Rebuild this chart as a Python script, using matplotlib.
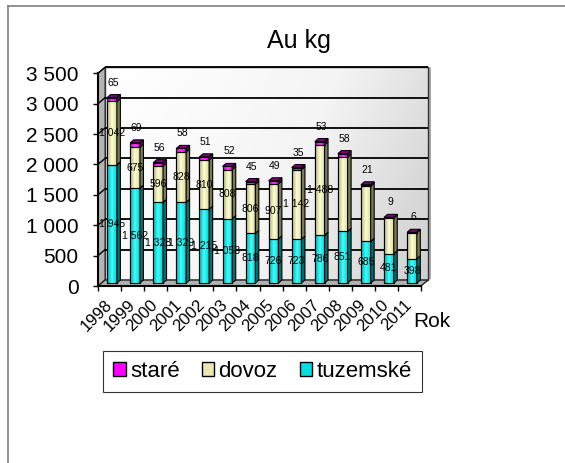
import numpy as np
import matplotlib
matplotlib.use("Agg")
import matplotlib.pyplot as plt
from matplotlib.patches import Rectangle, Polygon, Patch
from matplotlib.lines import Line2D
from matplotlib.colors import LinearSegmentedColormap

# ---------------- data ----------------
years = ["1998", "1999", "2000", "2001", "2002", "2003", "2004",
         "2005", "2006", "2007", "2008", "2009", "2010", "2011"]
tuzemske = [1945, 1562, 1328, 1329, 1215, 1058, 818, 726, 723, 786, 851, 685, 481, 398]
dovoz = [1042, 675, 596, 828, 810, 808, 806, 907, 1142, 1488, 1220, 910, 590, 430]
stare = [65, 69, 56, 58, 51, 52, 45, 49, 35, 53, 58, 21, 9, 6]
dovoz_label_shown = [True] * 10 + [False] * 4
y_ticks = [0, 500, 1000, 1500, 2000, 2500, 3000, 3500]
series_names = ["staré", "dovoz", "tuzemské"]
chart_title = "Au kg"
x_title = "Rok"

plt.rcParams["font.family"] = ["Liberation Sans", "DejaVu Sans"]

W, H, DPI = 565, 463, 100
fig = plt.figure(figsize=(W / DPI, H / DPI), dpi=DPI)
fig.patch.set_facecolor("white")


def fx(px):
    return px / W


def fy(py):
    return 1 - py / H


AX_L, AX_R, AX_T, AX_B = 98, 421, 73.3, 286
ax = fig.add_axes([fx(AX_L), fy(AX_B), (AX_R - AX_L) / W, (AX_B - AX_T) / H])
n = len(years)
XMIN, XMAX = -0.5, n - 0.5
YMIN, YMAX = 0, y_ticks[-1]
ax.patch.set_visible(False)


def ddx(px):
    return px * (XMAX - XMIN) / (AX_R - AX_L)


def ddy(px):
    return px * (YMAX - YMIN) / (AX_B - AX_T)


# ------------- 3D frame ---------------
wdx, wdy = ddx(7), ddy(6)

# back wall with gradient
gx = np.linspace(0, 1, 200)
gy = np.linspace(0, 1, 100)
GX, GY = np.meshgrid(gx, gy)
wall_val = 0.75 * GX ** 1.3 + 0.25 * (1 - GY)
wall_cmap = LinearSegmentedColormap.from_list("wall", ["#ffffff", "#f4f4f4", "#cfcfcf"])
ax.imshow(wall_val, extent=[XMIN + wdx, XMAX + wdx, YMIN + wdy, YMAX + wdy],
          origin="lower", aspect="auto", cmap=wall_cmap, zorder=0.5,
          interpolation="bilinear", clip_on=False)
ax.add_patch(Rectangle((XMIN + wdx, YMIN + wdy), XMAX - XMIN, YMAX - YMIN,
                       fc="none", ec="#333333", lw=1.0, zorder=0.6, clip_on=False))
# wall thickness on the right
ax.add_patch(Polygon([(XMAX + wdx, YMIN + wdy), (XMAX + wdx + ddx(3), YMIN + wdy + ddy(1)),
                      (XMAX + wdx + ddx(3), YMAX + wdy), (XMAX + wdx, YMAX + wdy)],
                     closed=True, fc="#a8a8a8", ec="none", zorder=0.55, clip_on=False))

# side wall
ax.add_patch(Polygon([(XMIN, YMIN), (XMIN + wdx, YMIN + wdy), (XMIN + wdx, YMAX + wdy), (XMIN, YMAX)],
                     closed=True, fc="#b4b4b4", ec="#333333", lw=0.8, zorder=0.7, clip_on=False))
# floor
ax.add_patch(Polygon([(XMIN, YMIN), (XMAX, YMIN), (XMAX + wdx, YMIN + wdy), (XMIN + wdx, YMIN + wdy)],
                     closed=True, fc="#b0b0b0", ec="#222222", lw=1.0, zorder=0.7, clip_on=False))

# gridlines
for v in y_ticks[1:]:
    ax.plot([XMIN + wdx, XMAX + wdx], [v + wdy, v + wdy], color="black", lw=1.3,
            zorder=0.8, clip_on=False, solid_capstyle="butt")
    ax.plot([XMIN, XMIN + wdx], [v, v + wdy], color="black", lw=1.0, zorder=0.8, clip_on=False)

# ------------- bars ---------------
bx, by = ddx(2.5), ddy(3)
bw = 0.42
sdx, sdy = ddx(3.5), ddy(3)
xc = np.arange(n)

styles = {
    "tuzemské": dict(front=["#00a8a8", "#40ffff", "#00d0d0"], side="#007070", top="#00a0a0"),
    "dovoz": dict(front=["#b0b080", "#ffffd0", "#d8d8a0"], side="#7a7a55", top="#b8b890"),
    "staré": dict(front=["#c000c0", "#ff40ff", "#e000e0"], side="#700070", top="#800080"),
}

grad = np.linspace(0, 1, 64).reshape(1, -1)
bottom = np.zeros(n)
stack = [("tuzemské", tuzemske), ("dovoz", dovoz), ("staré", stare)]
for k, (name, vals) in enumerate(stack):
    vals = np.array(vals, dtype=float)
    st = styles[name]
    cm = LinearSegmentedColormap.from_list(name, st["front"])
    bars = ax.bar(xc + bx, vals, bw, bottom=bottom + by, color=st["front"][1],
                  edgecolor="black", linewidth=0.8, zorder=3, label=name)
    for i, r in enumerate(bars.patches):
        x0, y0 = r.get_x(), r.get_y()
        x1, y1 = x0 + r.get_width(), y0 + r.get_height()
        ax.imshow(grad, extent=[x0, x1, y0, y1], origin="lower", aspect="auto",
                  cmap=cm, zorder=3.1, interpolation="bilinear")
        ax.add_patch(Rectangle((x0, y0), x1 - x0, y1 - y0, fc="none", ec="black",
                               lw=0.8, zorder=3.2))
        ax.add_patch(Polygon([(x1, y0), (x1 + sdx, y0 + sdy), (x1 + sdx, y1 + sdy), (x1, y1)],
                             closed=True, fc=st["side"], ec="black", lw=0.8, zorder=3.2))
        if k == len(stack) - 1:
            ax.add_patch(Polygon([(x0, y1), (x1, y1), (x1 + sdx, y1 + sdy), (x0 + sdx, y1 + sdy)],
                                 closed=True, fc=st["top"], ec="black", lw=0.8, zorder=3.2,
                                 clip_on=False))
    bottom = bottom + vals


def fmt(v):
    return f"{int(v):,}".replace(",", " ")


# data labels
lab_fs = 7.5
for i in range(n):
    t = tuzemske[i]
    ax.text(i + bx, by + t / 2, fmt(t), ha="center", va="center", fontsize=lab_fs, zorder=5)
    if dovoz_label_shown[i]:
        d = dovoz[i]
        ax.text(i + bx, by + t + d / 2, fmt(d), ha="center", va="center", fontsize=lab_fs, zorder=5)
    s = stare[i]
    ax.text(i + ddx(4), by + t + dovoz[i] + s + ddy(15), fmt(s), ha="center", va="center",
            fontsize=lab_fs, zorder=5, clip_on=False)

# ------------- axes ---------------
ax.set_xlim(XMIN, XMAX)
ax.set_ylim(YMIN, YMAX)
for sp in ["top", "right"]:
    ax.spines[sp].set_visible(False)
for sp in ["left", "bottom"]:
    ax.spines[sp].set_linewidth(1.5)
    ax.spines[sp].set_color("black")
    ax.spines[sp].set_zorder(6)

ax.set_yticks(y_ticks)
ax.set_yticklabels([fmt(v) for v in y_ticks])
ax.tick_params(axis="y", direction="out", length=3.6, width=1.0, pad=10.5, labelsize=15)

ax.set_xticks(np.arange(n + 1) - 0.5)
ax.set_xticklabels([])
ax.set_xticks(xc, minor=True)
ax.set_xticklabels(years, minor=True, rotation=45, ha="right", va="center",
                   rotation_mode="anchor", fontsize=12)
ax.tick_params(axis="x", which="major", direction="out", length=3.6, width=1.0)
ax.tick_params(axis="x", which="minor", length=0, pad=12)

# titles
fig.text(fx(298.7), fy(48.3), chart_title, fontsize=18, ha="center", va="baseline")
fig.text(fx(413), fy(327), x_title, fontsize=15, ha="left", va="baseline")

# legend
handles = [Patch(facecolor=c, edgecolor="black", linewidth=1.0)
           for c in ["#ff00ff", "#e8e8b0", "#00e0e0"]]
leg = fig.legend(handles, series_names, loc="center",
                 bbox_to_anchor=(fx(262.5), fy(371.5)), ncol=3, frameon=True,
                 fancybox=False, edgecolor="black", fontsize=16,
                 handlelength=0.55, handleheight=0.55, handletextpad=0.2,
                 columnspacing=1.0, borderpad=0.45)
leg.get_frame().set_linewidth(0.8)

# outer border (top & left visible)
fig.add_artist(Line2D([fx(8), 1], [fy(6), fy(6)], color="#808080", lw=1.2))
fig.add_artist(Line2D([fx(8), fx(8)], [fy(6), 0], color="#808080", lw=1.2))

fig.savefig("out.png", dpi=DPI)
